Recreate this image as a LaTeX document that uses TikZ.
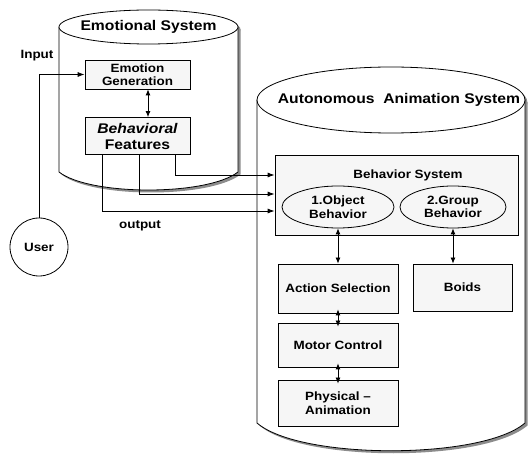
\documentclass[tikz,border=0pt]{standalone}
\usepackage{fontspec}
\newfontfamily\diagfont[FakeStretch=1.12]{Liberation Sans}
\usetikzlibrary{shapes.geometric, arrows.meta, positioning, calc}
\definecolor{shadowgray}{RGB}{140,140,140}
\definecolor{boxfill}{RGB}{246,246,246}

\begin{document}
\begin{tikzpicture}[x=1pt, y=-1pt,
    box/.style={rectangle, draw, line width=0.8pt, fill=boxfill, align=center, inner sep=1pt,
                font=\diagfont\bfseries\fontsize{12}{13.5}\selectfont},
    oval/.style={ellipse, draw, line width=0.8pt, fill=boxfill, align=center, inner sep=0pt,
                 font=\diagfont\bfseries\fontsize{12}{13.5}\selectfont},
    title/.style={font=\diagfont\bfseries\fontsize{14}{16}\selectfont},
    lbl/.style={font=\diagfont\bfseries\fontsize{12}{14}\selectfont},
    link/.style={line width=0.8pt, -{Latex[length=7pt, width=5pt]}},
    dlink/.style={line width=0.8pt, {Latex[length=6pt, width=5pt]}-{Latex[length=6pt, width=5pt]}}
]
\useasboundingbox (0,0) rectangle (528,457);

% Cylinder shadows
\fill[shadowgray] (61.5,29.5) -- (61.5,174.5) .. controls (92.5,198.5) and (209.5,198.5) .. (240.5,174.5) -- (240.5,29.5) -- cycle;
\fill[shadowgray] (151,29.5) ellipse [x radius=89.5, y radius=17];
\fill[shadowgray] (259.5,102.5) -- (259.5,425.5) .. controls (302.5,462.5) and (484.5,462.5) .. (527.5,425.5) -- (527.5,102.5) -- cycle;
\fill[shadowgray] (393.5,102.5) ellipse [x radius=134, y radius=33];

% Emotional System cylinder
\filldraw[fill=white, line width=0.8pt] (59,27) -- (59,172) .. controls (90,196) and (207,196) .. (238,172) -- (238,27);
\filldraw[fill=white, line width=0.8pt] (148.5,27) ellipse [x radius=89.5, y radius=17];

% Autonomous Animation System cylinder
\filldraw[fill=white, line width=0.8pt] (257,100) -- (257,423) .. controls (300,460) and (482,460) .. (525,423) -- (525,100);
\filldraw[fill=white, line width=0.8pt] (391,100) ellipse [x radius=134, y radius=33];

% Titles
\node[title] (emotitle) at (148.5,27) {Emotional System};
\node[title] (autotitle) at (399,100) {Autonomous\ \ Animation System};

% Emotional System contents
\node[box, minimum width=105pt, minimum height=29pt] (emogen) at (137.5,74.5) {Emotion\\Generation};
\node[box, minimum width=105pt, minimum height=37pt, font=\diagfont\bfseries\fontsize{14}{16}\selectfont]
    (bfeat) at (137.5,136) {\itshape Behavioral\\Features};

% User
\node[circle, draw, line width=0.8pt, minimum size=58pt, lbl] (user) at (39,247) {User};
\node[lbl] (inlbl) at (37,56) {Input};
\node[lbl] (outlbl) at (140,226) {output};

% Behavior System
\node[rectangle, draw, line width=0.8pt, fill=boxfill, minimum width=243pt, minimum height=80pt]
    (behsys) at (396.5,195) {};
\node[lbl] (behlbl) at (408,175) {Behavior System};
\node[oval, minimum width=112pt, minimum height=42pt] (objbeh) at (338,207) {1.Object\\Behavior};
\node[oval, minimum width=106pt, minimum height=42pt] (grpbeh) at (453,207) {2.Group\\Behavior};

% Lower boxes
\node[box, minimum width=120pt, minimum height=49pt] (actsel) at (338,288.5) {Action Selection};
\node[box, minimum width=120pt, minimum height=44pt] (motor) at (338,345) {Motor Control};
\node[box, minimum width=120pt, minimum height=46pt] (phys) at (338,403) {Physical –\\Animation};
\node[box, minimum width=99pt, minimum height=47pt] (boids) at (462.5,287.5) {Boids};

% Connectors
\draw[link] (user.north) |- (emogen.west);
\draw[dlink] ([xshift=10.5pt]emogen.south) -- ([xshift=10.5pt]bfeat.north);
\draw[link] ([xshift=37.5pt]bfeat.south) |- ([yshift=20pt]behsys.west);
\draw[link] ([xshift=1.5pt]bfeat.south) |- ([yshift=1pt]behsys.west);
\draw[link] ([xshift=-35.5pt]bfeat.south) |- ([yshift=-16pt]behsys.west);
\draw[dlink] (objbeh.south) -- (actsel.north);
\draw[dlink] (grpbeh.south) -- (grpbeh.south |- boids.north);
\draw[dlink] ([yshift=4pt]actsel.south) -- ([yshift=-4pt]motor.north);
\draw[dlink] ([yshift=4pt]motor.south) -- ([yshift=-4pt]phys.north);

\end{tikzpicture}
\end{document}
